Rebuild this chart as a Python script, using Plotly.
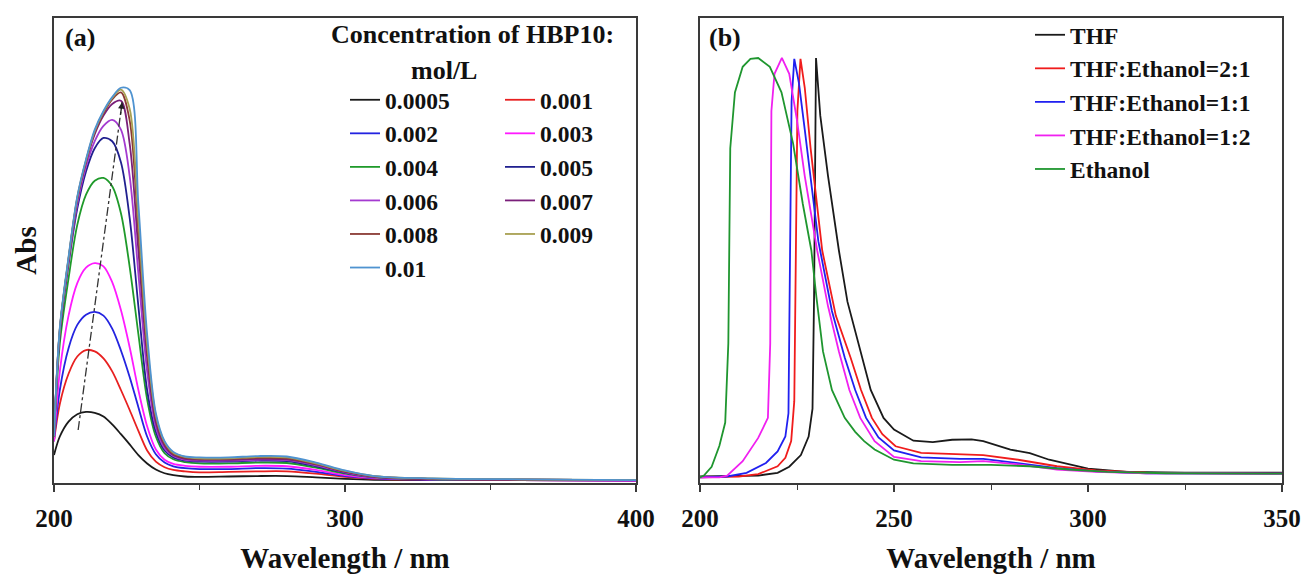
import plotly.graph_objects as go

# ---------------- data: panel (a) ----------------
WL_A = [200, 202, 205, 208, 211, 214, 217, 220, 223, 226, 229, 232, 235, 238, 241,
        245, 250, 260, 270, 280, 290, 300, 310, 330, 360, 400]

CONC_NAMES = ["0.0005", "0.001", "0.002", "0.003", "0.004", "0.005",
              "0.006", "0.007", "0.008", "0.009", "0.01"]
CONC_COLORS = ["#1a1a1a", "#e82020", "#2323e0", "#ff1aff", "#1f9a2a", "#20208f",
               "#a43ad0", "#7a1f7a", "#8a3a34", "#a8a052", "#4f93d0"]

A_0005 = [0.060, 0.100, 0.132, 0.148, 0.153, 0.151, 0.143, 0.126, 0.105, 0.083, 0.060, 0.042, 0.029,
          0.021, 0.017, 0.014, 0.013, 0.014, 0.015, 0.015, 0.012, 0.009, 0.007, 0.006, 0.006, 0.005]
A_001 = [0.090, 0.170, 0.235, 0.272, 0.286, 0.283, 0.268, 0.240, 0.200, 0.157, 0.112, 0.070, 0.046,
         0.034, 0.028, 0.025, 0.023, 0.024, 0.025, 0.025, 0.020, 0.013, 0.009, 0.007, 0.006, 0.005]
A_002 = [0.090, 0.200, 0.290, 0.340, 0.362, 0.368, 0.360, 0.332, 0.285, 0.228, 0.163, 0.100, 0.062,
         0.044, 0.036, 0.032, 0.030, 0.030, 0.032, 0.031, 0.024, 0.015, 0.010, 0.007, 0.006, 0.005]
A_003 = [0.090, 0.240, 0.360, 0.430, 0.463, 0.473, 0.466, 0.432, 0.372, 0.292, 0.200, 0.122, 0.072,
         0.050, 0.041, 0.037, 0.035, 0.035, 0.037, 0.036, 0.028, 0.017, 0.011, 0.008, 0.006, 0.005]
A_004 = [0.100, 0.300, 0.440, 0.555, 0.620, 0.650, 0.656, 0.638, 0.580, 0.465, 0.320, 0.180, 0.100,
         0.064, 0.051, 0.045, 0.042, 0.042, 0.044, 0.043, 0.033, 0.020, 0.012, 0.008, 0.007, 0.006]
A_005 = [0.100, 0.320, 0.470, 0.590, 0.670, 0.720, 0.742, 0.735, 0.690, 0.570, 0.380, 0.200, 0.110,
         0.070, 0.055, 0.048, 0.046, 0.046, 0.048, 0.047, 0.036, 0.022, 0.013, 0.009, 0.007, 0.006]
A_006 = [0.100, 0.325, 0.475, 0.600, 0.680, 0.735, 0.768, 0.781, 0.760, 0.660, 0.450, 0.240, 0.120,
         0.075, 0.058, 0.050, 0.048, 0.048, 0.050, 0.049, 0.038, 0.023, 0.013, 0.009, 0.007, 0.006]
A_007 = [0.100, 0.330, 0.480, 0.610, 0.690, 0.750, 0.790, 0.815, 0.822, 0.730, 0.500, 0.270, 0.130,
         0.080, 0.060, 0.052, 0.050, 0.050, 0.052, 0.051, 0.040, 0.024, 0.014, 0.009, 0.007, 0.006]
A_008 = [0.100, 0.330, 0.482, 0.612, 0.692, 0.755, 0.795, 0.825, 0.840, 0.780, 0.540, 0.290, 0.140,
         0.085, 0.063, 0.054, 0.052, 0.052, 0.054, 0.053, 0.041, 0.025, 0.014, 0.009, 0.007, 0.006]
A_009 = [0.100, 0.332, 0.484, 0.614, 0.694, 0.757, 0.798, 0.828, 0.846, 0.805, 0.565, 0.300, 0.145,
         0.088, 0.065, 0.056, 0.053, 0.053, 0.056, 0.055, 0.042, 0.026, 0.015, 0.010, 0.008, 0.006]
A_010 = [0.100, 0.334, 0.486, 0.616, 0.696, 0.760, 0.800, 0.830, 0.850, 0.845, 0.600, 0.320, 0.150,
         0.090, 0.067, 0.057, 0.055, 0.055, 0.058, 0.057, 0.044, 0.027, 0.015, 0.010, 0.008, 0.006]
A_SERIES = [A_0005, A_001, A_002, A_003, A_004, A_005, A_006, A_007, A_008, A_009, A_010]

# peak-shift guide (dash-dot line with arrow)
GUIDE_X = [208.3, 223.4]
GUIDE_Y = [0.114, 0.819]

# ---------------- data: panel (b) ----------------
SOLV_NAMES = ["THF", "THF:Ethanol=2:1", "THF:Ethanol=1:1", "THF:Ethanol=1:2", "Ethanol"]
SOLV_COLORS = ["#1a1a1a", "#f01c1c", "#2020f0", "#f020f0", "#1f962f"]

THF_X = [200, 215, 220, 223, 226, 228, 229, 229.4, 229.9, 231, 233, 235.8, 238, 241.3, 244, 247.3,
         250, 255, 260, 265, 270, 273, 280, 285, 290, 300, 310, 325, 350]
THF_Y = [0.014, 0.016, 0.022, 0.035, 0.060, 0.100, 0.160, 0.400, 0.914, 0.790, 0.660, 0.500, 0.390,
         0.283, 0.200, 0.140, 0.115, 0.091, 0.088, 0.093, 0.094, 0.090, 0.072, 0.064, 0.050, 0.031,
         0.024, 0.022, 0.022]
R21_X = [200, 210, 215, 220, 222, 223.5, 224.3, 224.7, 225.1, 225.9, 227, 228.5, 231.5, 235, 238.8,
         241.5, 244.3, 247, 250.4, 257, 267, 273, 282, 292, 302, 315, 350]
R21_Y = [0.012, 0.014, 0.019, 0.036, 0.054, 0.090, 0.176, 0.500, 0.800, 0.912, 0.850, 0.720, 0.500,
         0.360, 0.270, 0.200, 0.140, 0.105, 0.079, 0.065, 0.061, 0.060, 0.050, 0.036, 0.027, 0.022, 0.020]
R11_X = [200, 207, 212, 217, 220, 222, 222.8, 223.2, 223.6, 224.3, 225.5, 227, 230.5, 234, 237.3,
         240, 242.8, 246, 250, 257, 267, 273, 282, 292, 302, 315, 350]
R11_Y = [0.012, 0.014, 0.022, 0.043, 0.068, 0.100, 0.150, 0.500, 0.820, 0.912, 0.860, 0.760, 0.520,
         0.370, 0.270, 0.200, 0.140, 0.098, 0.070, 0.055, 0.052, 0.052, 0.043, 0.032, 0.025, 0.021, 0.020]
R12_X = [200, 205, 207, 211, 215, 217.5, 218.1, 218.4, 219.2, 221.1, 223, 225, 227, 230.2, 233,
         235.8, 238.5, 241.3, 245, 250, 257, 267, 273, 282, 292, 302, 315, 350]
R12_Y = [0.012, 0.012, 0.016, 0.047, 0.097, 0.140, 0.300, 0.800, 0.880, 0.914, 0.880, 0.780, 0.660,
         0.500, 0.380, 0.283, 0.200, 0.140, 0.090, 0.056, 0.047, 0.045, 0.047, 0.040, 0.029, 0.024,
         0.021, 0.020]
ETH_X = [200, 201, 203, 205, 206.5, 207.3, 207.8, 209, 211, 213, 215, 218, 221, 224, 226.5, 228.7,
         230, 231.7, 234, 237.3, 240, 242.3, 245, 250, 255, 265, 275, 285, 295, 305, 320, 350]
ETH_Y = [0.012, 0.016, 0.035, 0.080, 0.130, 0.300, 0.720, 0.840, 0.895, 0.912, 0.914, 0.895, 0.840,
         0.730, 0.600, 0.500, 0.400, 0.283, 0.200, 0.140, 0.110, 0.090, 0.072, 0.050, 0.042, 0.039,
         0.039, 0.036, 0.029, 0.024, 0.021, 0.020]
B_SERIES = [(THF_X, THF_Y), (R21_X, R21_Y), (R11_X, R11_Y), (R12_X, R12_Y), (ETH_X, ETH_Y)]

# ---------------- figure ----------------
W, H = 1301, 576
FONT = "Liberation Serif"
AX_COLOR = "#3a3a3a"

def px_x(p):
    return p / W

def px_y(p):
    return 1 - p / H

fig = go.Figure()

for i, (name, col, ys) in enumerate(zip(CONC_NAMES, CONC_COLORS, A_SERIES)):
    fig.add_trace(go.Scatter(
        x=WL_A, y=ys, mode="lines", name=name,
        line=dict(color=col, width=1.8, shape="spline", smoothing=0.9),
        xaxis="x", yaxis="y",
        legend="legend" if i % 2 == 0 else "legend2",
        legendgroup=name,
    ))

fig.add_trace(go.Scatter(
    x=GUIDE_X, y=GUIDE_Y, mode="lines", showlegend=False,
    line=dict(color="#333333", width=1.3, dash="dashdot"),
    xaxis="x", yaxis="y",
))

for name, col, (xs, ys) in zip(SOLV_NAMES, SOLV_COLORS, B_SERIES):
    fig.add_trace(go.Scatter(
        x=xs, y=ys, mode="lines", name=name,
        line=dict(color=col, width=1.8),
        xaxis="x2", yaxis="y2", legend="legend3", legendgroup=name,
    ))

tickfont = dict(family=FONT, size=25, color="#111111", weight="bold")
titlefont = dict(family=FONT, size=29, color="#111111", weight="bold")

common_x = dict(
    showline=True, mirror=True, linecolor=AX_COLOR, linewidth=1.6,
    ticks="outside", ticklen=7, tickwidth=1.6, tickcolor=AX_COLOR,
    showgrid=False, zeroline=False, tickfont=tickfont,
    ticklabelstandoff=5, automargin=False,
    title=dict(text="Wavelength / nm", font=titlefont, standoff=17),
)
common_y = dict(
    showline=True, mirror=True, linecolor=AX_COLOR, linewidth=1.6,
    ticks="", showticklabels=False, showgrid=False, zeroline=False,
    range=[0, 1], automargin=False,
)

legend_common = dict(
    bgcolor="rgba(0,0,0,0)", borderwidth=0,
    font=dict(family=FONT, size=23.5, color="#111111", weight="bold"),
    xanchor="left", yanchor="top", tracegroupgap=0,
    orientation="v",
)

fig.update_layout(
    width=W, height=H,
    margin=dict(l=0, r=0, t=0, b=0),
    paper_bgcolor="white", plot_bgcolor="white",
    xaxis=dict(domain=[px_x(54), px_x(636)], range=[200, 400], anchor="y",
               tick0=200, dtick=100,
               minor=dict(ticks="outside", ticklen=5, tickwidth=1.4, tickcolor=AX_COLOR, dtick=50),
               **common_x),
    yaxis=dict(domain=[px_y(483), px_y(18)], anchor="x",
               title=dict(text="Abs", font=titlefont, standoff=7), **common_y),
    xaxis2=dict(domain=[px_x(700), px_x(1282)], range=[200, 350], anchor="y2",
                tick0=200, dtick=50,
                minor=dict(ticks="outside", ticklen=5, tickwidth=1.4, tickcolor=AX_COLOR, dtick=25),
                **common_x),
    yaxis2=dict(domain=[px_y(483), px_y(18)], anchor="x2", **common_y),
    legend=dict(x=px_x(345), y=px_y(78), **legend_common),
    legend2=dict(x=px_x(500), y=px_y(78), **legend_common),
    legend3=dict(x=px_x(1030), y=px_y(13), **legend_common),
    showlegend=True,
)

ann_font = dict(family=FONT, size=26, color="#111111", weight="bold")
fig.add_annotation(x=px_x(80), y=px_y(38), xref="paper", yref="paper", text="(a)",
                   showarrow=False, font=ann_font, xanchor="center", yanchor="middle")
fig.add_annotation(x=px_x(725), y=px_y(38), xref="paper", yref="paper", text="(b)",
                   showarrow=False, font=ann_font, xanchor="center", yanchor="middle")
fig.add_annotation(x=px_x(472), y=px_y(35), xref="paper", yref="paper",
                   text="Concentration of HBP10:", showarrow=False, font=ann_font,
                   xanchor="center", yanchor="middle")
fig.add_annotation(x=px_x(444), y=px_y(70), xref="paper", yref="paper",
                   text="mol/L", showarrow=False, font=ann_font,
                   xanchor="center", yanchor="middle")
# small arrow head at the top of the dash-dot guide
fig.add_annotation(x=GUIDE_X[1], y=GUIDE_Y[1], xref="x", yref="y",
                   ax=GUIDE_X[1] - 0.6, ay=GUIDE_Y[1] - 0.03, axref="x", ayref="y",
                   text="", showarrow=True, arrowhead=2, arrowsize=1, arrowwidth=1.3,
                   arrowcolor="#222222")

fig.write_html("out.html", config={"displayModeBar": False},
               post_script="document.body.style.margin='0';")
